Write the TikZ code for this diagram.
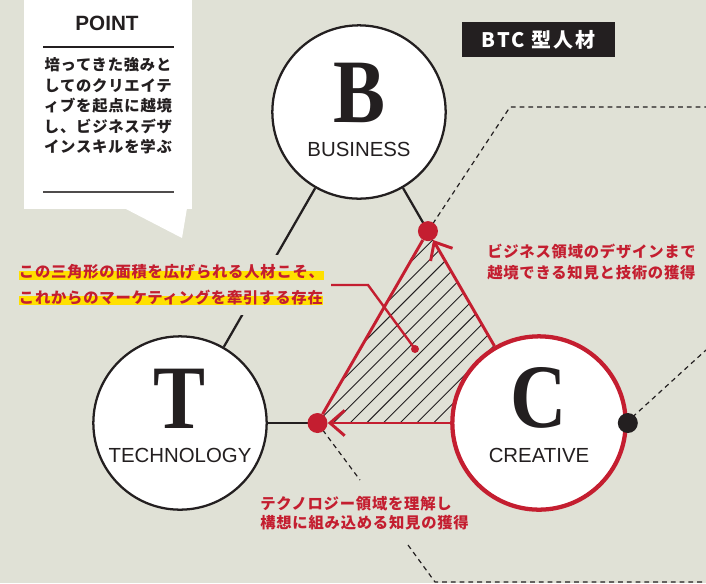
\documentclass[tikz,border=0pt]{standalone}
\usepackage{fontspec}
\usepackage{graphicx}
\usetikzlibrary{arrows.meta,calc,positioning}
\setmainfont{Liberation Sans}
\newfontfamily\jp[LetterSpace=5]{Noto Sans CJK JP}
\newfontfamily\jptag[LetterSpace=10]{Noto Sans CJK JP}
\newfontfamily\bigserif{Liberation Serif}
\definecolor{bg}{HTML}{E0E1D6}
\definecolor{ink}{HTML}{231F20}
\definecolor{btcred}{HTML}{C41E30}
\definecolor{marker}{HTML}{FFE000}
\newcommand{\marked}[1]{\setbox0\hbox{#1}\rlap{\color{marker}\rule[-0.15em]{\wd0}{0.62em}}\box0}
\begin{document}
\begin{tikzpicture}[x=0.75pt, y=-0.75pt,
      every node/.append style={inner sep=0pt},
      area/.style={circle, draw=ink, fill=white, line width=1.7pt, minimum size=130pt},
      initial/.style={font=\bigserif\bfseries\fontsize{68}{68}\selectfont, text=ink},
      field/.style={font=\fontsize{15.3}{17}\selectfont, text=ink},
      reddot/.style={circle, fill=btcred, minimum size=15pt},
      blackdot/.style={circle, fill=ink, minimum size=15pt},
      jpred/.style={text=btcred, align=left},
      link/.style={draw=ink, line width=1.7pt},
      redlink/.style={draw=btcred, line width=2.2pt},
      hatch/.style={draw=ink, line width=0.7pt},
      dashline/.style={draw=ink, line width=0.9pt, dash pattern=on 3.6pt off 3pt}]
    \tikzstyle{barb} = [-{Straight Barb[length=11pt, width=19pt]}]
    \fill[bg] (0,0) rectangle (706,583);
    \useasboundingbox (0,0) rectangle (706,583);
    \fill[white] (24,0) rectangle (192,209);
    \fill[white] (124,208) -- (182,238) -- (187,208) -- cycle;
    \node[font=\bfseries\fontsize{15.5}{18}\selectfont, text=ink] (point) at (107,23) {POINT};
    \draw[ink, line width=1.1pt] (43,47) -- (174,47);
    \draw[ink!80, line width=1.4pt] (43,192) -- (174,192);
    \node[font=\jp\bfseries\fontsize{11.5}{15.4}\selectfont, text=ink, align=center] (pointtext) at (108,106)
      {培ってきた強みと\\してのクリエイテ\\ィブを起点に越境\\し、ビジネスデザ\\インスキルを学ぶ};
    \coordinate (Cc) at (539,423);
    \node[area] (B) at (359,112) {};
    \node[area] (T) at (180,423) {};
    \coordinate (top) at ($(B)!0.383!(Cc)$);
    \coordinate (left) at ($(T)!0.383!(Cc)$);
    \coordinate (bend1) at (510,107);
    \coordinate (edge1) at (706,107);
    \coordinate (edge2) at (706,350);
    \coordinate (gap1) at (360,480);
    \coordinate (gap2) at (408,545);
    \coordinate (bend3) at (435,582);
    \coordinate (edge3) at (706,582);
    \draw[dashline] (top) -- (bend1) -- (edge1);
    \draw[dashline] (left) -- (gap1);
    \draw[dashline] (gap2) -- (bend3) -- (edge3);
    \draw[dashline] (Cc) ++(87,0) -- (edge2);
    \draw[link] (B) -- (T);
    \draw[link] (T) -- (left);
    \draw[link] (B) -- (top);
    \begin{scope}
      \clip (top) -- (left) -- (Cc) -- cycle;
      \foreach \k in {0,...,19}
        \draw[hatch] ({216+16.7*\k},440) -- ++(220,-220);
    \end{scope}
    \node[area, draw=btcred, line width=3.2pt] (C) at (Cc) {};
    \node[reddot] (topdot) at (top) {};
    \node[reddot] (leftdot) at (left) {};
    \node[blackdot] (cdot) at (C.east) {};
    \draw[redlink] (leftdot) -- (topdot);
    \draw[redlink, barb] (C) -- (topdot);
    \draw[redlink, barb] (C) -- (leftdot);
    \node[initial] (Bl) at ([yshift=14.5pt]B.center) {\scalebox{0.86}[1]{B}};
    \node[initial] (Tl) at ([yshift=18.5pt]T.center) {\scalebox{0.86}[1]{T}};
    \node[initial] (Cl) at ([yshift=18.5pt]C.center) {\scalebox{0.86}[1]{C}};
    \node[field] (Bn) at ([yshift=-28pt]B.center) {BUSINESS};
    \node[field] (Tn) at ([yshift=-24pt]T.center) {TECHNOLOGY};
    \node[field] (Cn) at ([yshift=-24pt]C.center) {CREATIVE};
    \node[fill=ink, text=white, minimum width=114.75pt, minimum height=26.25pt,
      font=\jptag\bfseries\fontsize{15}{17}\selectfont] (btc) at (538.5,39.5) {BTC 型人材};
    \node[jpred, fill=bg, inner xsep=2pt, inner ysep=7pt, font=\jp\bfseries\fontsize{11.5}{19.1}\selectfont] (callout) at (171.5,285)
      {\marked{この三角形の面積を広げられる人材こそ、}\\\marked{これからのマーケティングを牽引する存在}};
    \node[circle, fill=btcred, minimum size=6pt] (areadot) at (415,349) {};
    \draw[redlink, line width=1.8pt] ([xshift=3pt]callout.east) -- ++(37,0) -- (areadot.center);
    \node[jpred, anchor=west, font=\jp\bfseries\fontsize{11.5}{15.8}\selectfont] (bizgain) at (487,262)
      {ビジネス領域のデザインまで\\越境できる知見と技術の獲得};
    \node[jpred, anchor=west, font=\jp\bfseries\fontsize{11.5}{14.6}\selectfont] (techgain) at (260,513)
      {テクノロジー領域を理解し\\構想に組み込める知見の獲得};
  \end{tikzpicture}
\end{document}
